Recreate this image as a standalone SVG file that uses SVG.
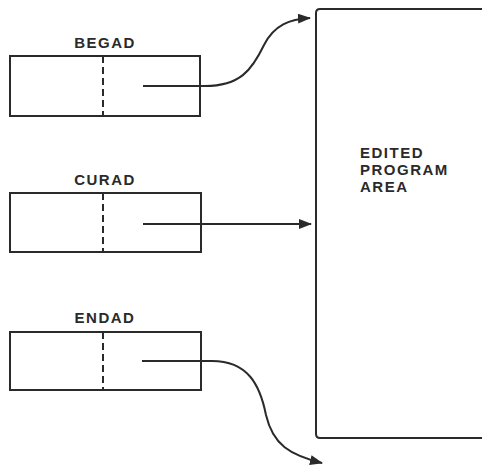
<svg xmlns="http://www.w3.org/2000/svg" width="482" height="465" viewBox="0 0 482 465">
<style>
.box{fill:none;stroke:#2a2a2a;stroke-width:2}
.div{stroke:#2a2a2a;stroke-width:2;stroke-dasharray:7,4}
.lbl{font-family:"Liberation Sans",Arial,sans-serif;font-weight:bold;font-size:15px;fill:#2a2a2a;letter-spacing:1.5px}
.con{fill:none;stroke:#2a2a2a;stroke-width:2}
</style>
<defs>
<marker id="ah" viewBox="0 0 13 10" refX="12" refY="5" markerWidth="13" markerHeight="10" markerUnits="userSpaceOnUse" orient="auto">
<path d="M0,0 L13,5 L0,10 Z" fill="#2a2a2a"/>
</marker>
</defs>
<rect width="482" height="465" fill="#ffffff"/>
<g id="begad">
<rect class="box" x="10" y="56" width="190" height="60"/>
<line class="div" x1="103" y1="56" x2="103" y2="116"/>
<text class="lbl" x="105" y="48" text-anchor="middle">BEGAD</text>
</g>
<g id="curad">
<rect class="box" x="10" y="193" width="191" height="59"/>
<line class="div" x1="103" y1="193" x2="103" y2="252"/>
<text class="lbl" x="105" y="185" text-anchor="middle">CURAD</text>
</g>
<g id="endad">
<rect class="box" x="10" y="332" width="191" height="58"/>
<line class="div" x1="103" y1="332" x2="103" y2="390"/>
<text class="lbl" x="105" y="323" text-anchor="middle">ENDAD</text>
</g>
<g id="edited-program-area">
<path class="box" d="M482,9 L320,9 Q316,9 316,13 L316,434 Q316,438 320,438 L482,438"/>
<text class="lbl" x="360" y="158">EDITED</text>
<text class="lbl" x="360" y="175">PROGRAM</text>
<text class="lbl" x="360" y="192">AREA</text>
</g>
<g id="connectors">
<path class="con" d="M143,86 L205,86 C240,86 252,70 264,45 C274,25 290,19 310,18" marker-end="url(#ah)"/>
<line class="con" x1="143" y1="224" x2="311" y2="224" marker-end="url(#ah)"/>
<path class="con" d="M142,361 L212,361 C248,361 260,385 266,415 C273,445 290,455 322,463" marker-end="url(#ah)"/>
</g>
</svg>
